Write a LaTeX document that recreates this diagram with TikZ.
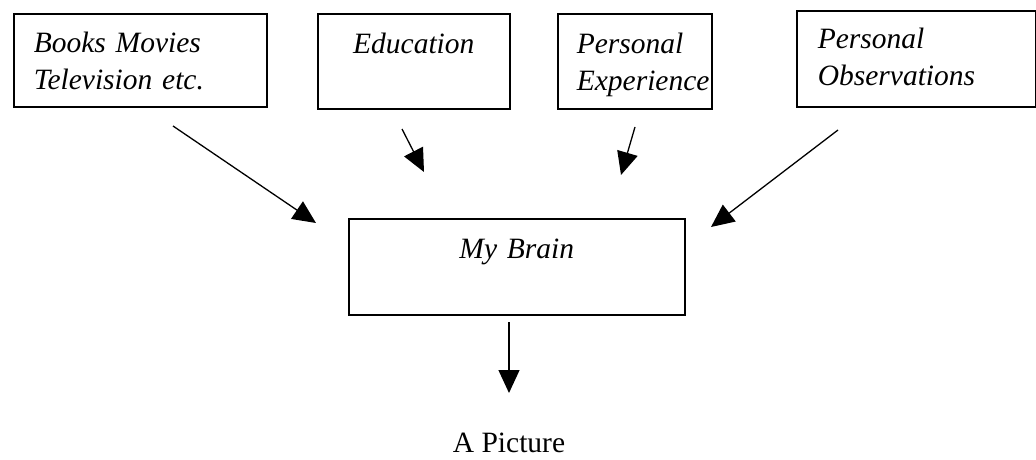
\documentclass[tikz,border=0pt]{standalone}
\usepackage{fontspec}
\setmainfont{Liberation Serif}
\usepackage{tikz}
\usetikzlibrary{arrows.meta, positioning}
\tikzset{
  srcbox/.style={rectangle, draw=black, line width=1.6pt, anchor=north west,
    inner xsep=20pt, inner ysep=0pt, align=left,
    font=\fontsize{29.5}{36.5}\selectfont\itshape},
  midbox/.style={srcbox, align=center},
  plain/.style={font=\fontsize{29.5}{36.5}\selectfont, inner sep=0pt},
  arrow/.style={-{Triangle[length=23pt, width=21pt]}, line width=1.3pt, color=black}
}

\begin{document}
\begin{tikzpicture}[x=1pt, y=-1pt]
  \useasboundingbox (0,0) rectangle (1036,460);

  % Sources
  \node[srcbox, text width=213pt, text height=39pt, text depth=54pt] (books) at (13,13)
    {Books Movies\\Television etc.};
  \node[midbox, text width=152pt, text height=40pt, text depth=55pt] (edu) at (317,13)
    {Education};
  \node[srcbox, inner xsep=19pt, text width=116pt, text height=40pt, text depth=55pt] (exper) at (557,13)
    {Personal\\Experience};
  \node[srcbox, inner xsep=21pt, text width=197pt, text height=38pt, text depth=58pt] (observ) at (796,10)
    {Personal\\Observations};

  % Brain and result
  \node[midbox, text width=296pt, text height=40pt, text depth=56pt] (brain) at (348,218)
    {My Brain};
  \node[plain, anchor=base] (pic) at (509,452) {A Picture};

  % Arrow ends
  \coordinate (b1) at (173,126);  \coordinate (b2) at (316,223);
  \coordinate (e1) at (402,129);  \coordinate (e2) at (424,172);
  \coordinate (x1) at (635,127);  \coordinate (x2) at (621,175);
  \coordinate (o1) at (838,130);  \coordinate (o2) at (711,227);
  \coordinate (r1) at (509,322);  \coordinate (r2) at (509,393);

  \draw[arrow] (b1) -- (b2);
  \draw[arrow] (e1) -- (e2);
  \draw[arrow] (x1) -- (x2);
  \draw[arrow] (o1) -- (o2);
  \draw[arrow] (r1) -- (r2);
\end{tikzpicture}
\end{document}
